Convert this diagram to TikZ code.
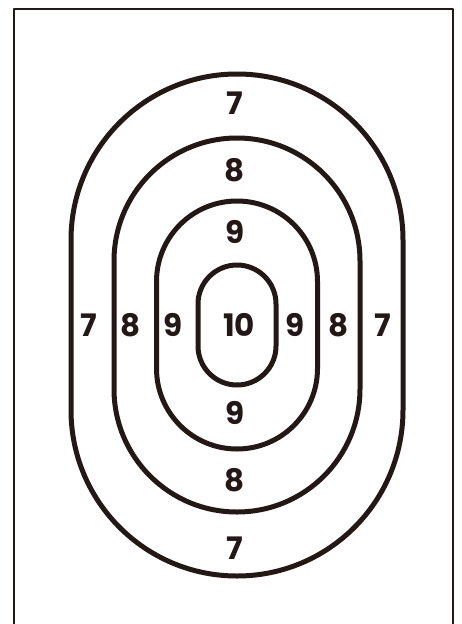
\documentclass[tikz,border=0pt]{standalone}
\usepackage{fontspec}
\setmainfont{Poppins}
\definecolor{ink}{HTML}{231815}
\begin{document}
\begin{tikzpicture}[x=1pt,y=-1pt,line join=round,line cap=round,ink]
	\tikzset{every node/.style={font=\bfseries\fontsize{31}{31}\selectfont,inner sep=0pt},
		ring/.style={line width=5pt}}
	\useasboundingbox (0,0) rectangle (462,624);
	\draw[line width=2pt] (14,624)--(14,9)--(453,9)--(453,624);
	% rings 7, 8, 9, 10 around the centre (237,325)
	\foreach \rx/\ry in {166/251,123/187,80.5/124,39/60}
	\draw[ring,rounded corners=\rx pt] (237-\rx,325-\ry) rectangle (237+\rx,325+\ry);
	% scores
	\foreach \nm/\x/\y/\s in {top7/235/103/7,top8/235/170/8,top9/235/232/9,
		bot9/235/413/9,bot8/235/480/8,bot7/235/548/7,
		left7/89/325/7,left8/131/325/8,left9/173/325/9,mid10/239/325/10,
		right9/295/325/9,right8/339/325/8,right7/383/325/7}
	\node (\nm) at (\x,\y) {\s};
\end{tikzpicture}
\end{document}
